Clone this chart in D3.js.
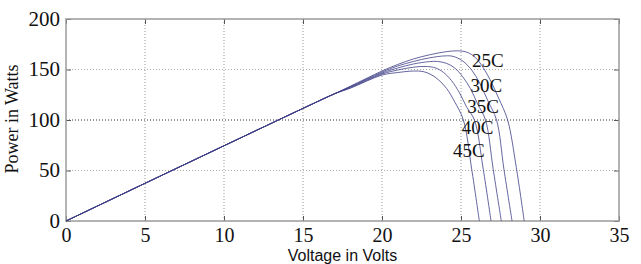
<!DOCTYPE html>
<html>
<head>
<meta charset="utf-8">
<script src="https://cdn.jsdelivr.net/npm/d3@7"></script>
<style>
  body { margin: 0; background: #fff; }
  text { fill: #111; }
</style>
</head>
<body>
<div id="plot"></div>
<script>
var margin = { top: 19, right: 22, bottom: 43, left: 66 }
  , width = 641 - margin.left - margin.right
  , height = 264 - margin.top - margin.bottom

// temperatures and the P-V points (volts, watts)
var temps = ['25C', '30C', '35C', '40C', '45C']
var common = [[0, 0], [5, 37.3], [10, 74.5], [15, 111.5], [17, 126]]
var c25 = [[18, 133.5], [20, 148.5], [21, 155], [22, 160.5], [23, 164.5], [24, 167.5], [24.8, 168.5], [25.4, 167], [25.9, 162], [26.4, 152], [26.9, 138], [27.4, 121], [27.95, 100], [28.5, 53], [29.0, 0]]
var c30 = [[18, 133], [20, 147.5], [21, 153.5], [22, 158], [23, 161.5], [24, 163.5], [24.5, 163], [25.1, 158.5], [25.7, 149], [26.2, 136], [26.7, 119], [27.25, 100], [27.72, 51], [28.23, 0]]
var c35 = [[18, 132.5], [20, 146.5], [21, 151.5], [22, 155.5], [23, 157.8], [23.5, 158], [24.1, 156], [24.6, 151.5], [25.1, 143], [25.6, 131], [26.05, 116], [26.55, 100], [27.04, 51], [27.55, 0]]
var c40 = [[18, 132], [20, 145.5], [21, 149.5], [22, 152.3], [22.8, 153], [23.4, 151.5], [23.9, 147], [24.4, 139], [24.9, 127], [25.35, 113], [25.85, 100], [26.41, 51], [26.9, 0]]
var c45 = [[18, 131.5], [20, 144.5], [21, 147], [22, 148.5], [22.6, 148], [23.1, 145], [23.6, 139.5], [24.1, 131], [24.6, 118], [25.15, 100], [25.68, 51], [26.16, 0]]
// where each label sits, in data units (volts, watts)
var labelV = [25.7, 25.6, 25.4, 25.05, 24.5]
var labelP = [152.5, 128, 107, 86, 63]

var xTicks = [0, 5, 10, 15, 20, 25, 30, 35]
var yTicks = [0, 50, 100, 150, 200]

var curves = [c25, c30, c35, c40, c45].map(c => common.concat(c))

var svg = d3.select("#plot")
  .append("svg")
  .attr("width", 641)
  .attr("height", 264)
  .append("g")
  .attr("transform", "translate(" + margin.left + "," + margin.top + ")")

var xScale = d3.scaleLinear().domain([0, 35]).range([0, width])
var yScale = d3.scaleLinear().domain([0, 200]).range([height, 0])

// dotted grid
svg.selectAll(".vgrid")
  .data(xTicks.slice(1, -1))
  .enter().append("line")
  .attr("x1", d => xScale(d)).attr("x2", d => xScale(d))
  .attr("y1", 0).attr("y2", height)
  .attr("stroke", "#999").attr("stroke-dasharray", "1,2")

svg.selectAll(".hgrid")
  .data(yTicks.slice(1, -1))
  .enter().append("line")
  .attr("x1", 0).attr("x2", width)
  .attr("y1", d => yScale(d)).attr("y2", d => yScale(d))
  .attr("stroke", d => d == 100 ? "#333" : "#aaa").attr("stroke-dasharray", "1,2")

// axes, matlab style inward ticks
var fontSerif = "'Liberation Serif', 'Times New Roman', serif"

svg.append("g")
  .attr("transform", "translate(0," + height + ")")
  .call(d3.axisBottom(xScale).tickValues(xTicks).tickSize(-5).tickPadding(7))
  .call(g => g.select(".domain").remove())
  .call(g => g.selectAll("line").attr("stroke", "#555"))
  .call(g => g.selectAll("text").attr("font-family", fontSerif).attr("font-size", 20).attr("fill", "#111"))

svg.append("g")
  .call(d3.axisLeft(yScale).tickValues(yTicks).tickSize(-5).tickPadding(6))
  .call(g => g.select(".domain").remove())
  .call(g => g.selectAll("line").attr("stroke", "#555"))
  .call(g => g.selectAll("text").attr("font-family", fontSerif).attr("font-size", 21).attr("fill", "#111").attr("dy", "0.3em"))

svg.append("g")
  .attr("transform", "translate(" + width + ",0)")
  .call(d3.axisRight(yScale).tickValues(yTicks).tickSize(-5).tickFormat(""))
  .call(g => g.select(".domain").remove())
  .call(g => g.selectAll("line").attr("stroke", "#555"))

svg.append("g")
  .call(d3.axisTop(xScale).tickValues(xTicks).tickSize(-5).tickFormat(""))
  .call(g => g.select(".domain").remove())
  .call(g => g.selectAll("line").attr("stroke", "#555"))

svg.append("rect")
  .attr("width", width).attr("height", height)
  .attr("fill", "none").attr("stroke", "#9a9a9a").attr("stroke-width", 1.5)

var line = d3.line()
  .x(d => xScale(d[0]))
  .y(d => yScale(d[1]))
  .curve(d3.curveCatmullRom.alpha(0.5))

svg.selectAll(".curve")
  .data(curves)
  .enter().append("path")
  .attr("class", "curve")
  .attr("d", line)
  .attr("fill", "none")
  .attr("stroke", "#3f3f88")
  .attr("stroke-width", 0.8)

svg.selectAll(".lbl")
  .data(temps)
  .enter().append("text")
  .attr("x", (d, i) => xScale(labelV[i]))
  .attr("y", (d, i) => yScale(labelP[i]))
  .attr("font-family", fontSerif)
  .attr("font-size", 19)
  .text(d => d)

svg.append("text")
  .attr("x", width / 2)
  .attr("y", height + 40)
  .attr("text-anchor", "middle")
  .attr("font-family", "'Liberation Sans', Arial, sans-serif")
  .attr("font-size", 16)
  .text("Voltage in Volts")

svg.append("text")
  .attr("transform", "translate(" + (-48) + "," + (height / 2 - 1) + ") rotate(-90)")
  .attr("text-anchor", "middle")
  .attr("font-family", fontSerif)
  .attr("font-size", 18)
  .text("Power in Watts")
</script>
</body>
</html>
